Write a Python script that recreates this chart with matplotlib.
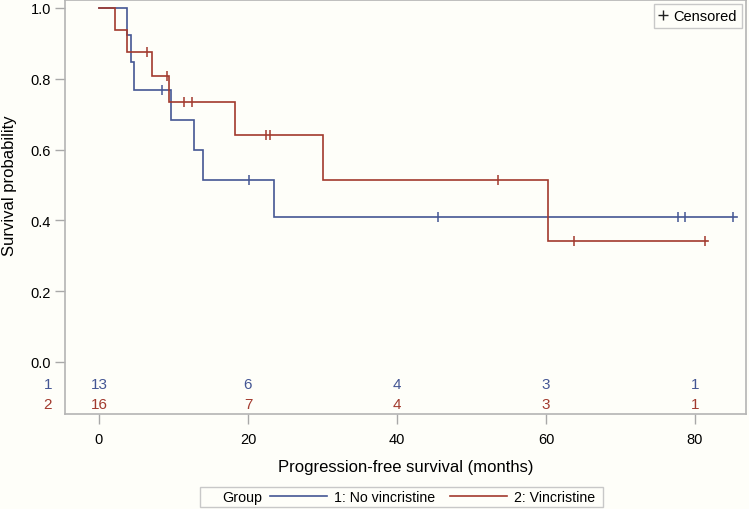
import numpy as np
import matplotlib
matplotlib.use('Agg')
import matplotlib.pyplot as plt
from matplotlib.lines import Line2D
from matplotlib.patches import Rectangle

plt.rcParams['font.family'] = ['Liberation Sans', 'DejaVu Sans']

# data: time (months), event flag (1 = progression, 0 = censored)
t_no = [3.8, 4.25, 4.7, 8.4, 9.7, 12.7, 13.9, 20.1, 23.5, 45.5, 77.7, 78.7, 85.1]
e_no = [1, 1, 1, 0, 1, 1, 1, 0, 1, 0, 0, 0, 0]
t_vin = [2.15, 3.8, 6.4, 7.07, 9.17, 9.35, 11.45, 12.5, 18.2, 22.4, 23.0, 30.1,
         53.6, 60.3, 63.8, 81.3]
e_vin = [1, 1, 0, 1, 0, 1, 0, 0, 1, 0, 0, 1, 0, 1, 0, 0]
line_end = [85.6, 81.8]

risk_times = [0, 20, 40, 60, 80]
risk_no = [13, 6, 4, 3, 1]
risk_vin = [16, 7, 4, 3, 1]

groups = ['1: No vincristine', '2: Vincristine']
colors = ['#445694', '#A23A2E']
bg = '#fefef9'


def km(times, events):
    times = np.asarray(times, float)
    events = np.asarray(events, int)
    order = np.argsort(times)
    times, events = times[order], events[order]
    n = len(times)
    s = 1.0
    xs, ys = [0.0], [1.0]
    cens_x, cens_y = [], []
    for i, (t, e) in enumerate(zip(times, events)):
        at_risk = n - i
        if e:
            xs += [t, t]
            ys += [s, s * (at_risk - 1) / at_risk]
            s = s * (at_risk - 1) / at_risk
        else:
            cens_x.append(t)
            cens_y.append(s)
    return xs, ys, s, cens_x, cens_y


fig = plt.figure(figsize=(7.49, 5.10), dpi=100, facecolor=bg)
ax = fig.add_axes([65 / 749, 95 / 510, 681 / 749, 414 / 510], facecolor=bg)

for (tt, ee), col, end in zip([(t_no, e_no), (t_vin, e_vin)], colors, line_end):
    xs, ys, s_last, cx, cy = km(tt, ee)
    xs.append(end)
    ys.append(s_last)
    ax.plot(xs, ys, color=col, lw=1.2, solid_joinstyle='miter')
    ax.plot(cx, cy, ls='none', marker='|', ms=7, mew=1.1, color=col)

# at-risk table inside the frame
row_y = [-0.061, -0.118]
for counts, col, y, lab in zip([risk_no, risk_vin], colors, row_y, ['1', '2']):
    for t, c in zip(risk_times, counts):
        ax.text(t, y, str(c), color=col, ha='center', va='center', fontsize=11)
    ax.text(-0.025, y, lab, color=col, ha='center', va='center', fontsize=11,
            transform=ax.get_yaxis_transform())

ax.set_xlim(-4.56, 86.85)
ax.set_ylim(-0.147, 1.0226)
ax.set_xticks(risk_times)
ax.set_yticks([0.0, 0.2, 0.4, 0.6, 0.8, 1.0])
ax.set_yticklabels(['0.0', '0.2', '0.4', '0.6', '0.8', '1.0'])
ax.tick_params(length=7, width=1, color='#a8a8a8', labelsize=10.5, pad=3)
ax.tick_params(axis='x', pad=6)
for sp in ax.spines.values():
    sp.set_color('#b4b4b4')
    sp.set_linewidth(1.2)

ax.set_xlabel('Progression-free survival (months)', fontsize=12, labelpad=9)
ax.set_ylabel('Survival probability', fontsize=12)
ax.yaxis.set_label_coords(-0.071, 0.555)

# censored legend
ax.legend(handles=[Line2D([], [], ls='none', marker='+', ms=7, mew=1, color='#222222')],
          labels=['Censored'], loc='upper right', bbox_to_anchor=(0.9985, 0.9985),
          handlelength=0.6, handletextpad=0.4, fontsize=10.5, fancybox=False,
          edgecolor='#c8c8c8', framealpha=1, facecolor=bg, borderpad=0.35,
          borderaxespad=0.2)

# group legend at the bottom
fig.patches.append(Rectangle((200 / 749, 2 / 510), 403 / 749, 20 / 510,
                             transform=fig.transFigure, fill=False,
                             edgecolor='#c8c8c8', lw=1))
fig.text(222 / 749, 12 / 510, 'Group', fontsize=10.3, va='center', ha='left')
handles = [Line2D([], [], color=c, lw=1.2) for c in colors]
fig.legend(handles, groups, loc='center left', bbox_to_anchor=(270 / 749, 12 / 510),
           ncol=2, frameon=False, fontsize=10.2, handlelength=4.0,
           handletextpad=0.5, columnspacing=1.1, borderpad=0, borderaxespad=0)

fig.savefig('out.png', dpi=100, facecolor=bg)
